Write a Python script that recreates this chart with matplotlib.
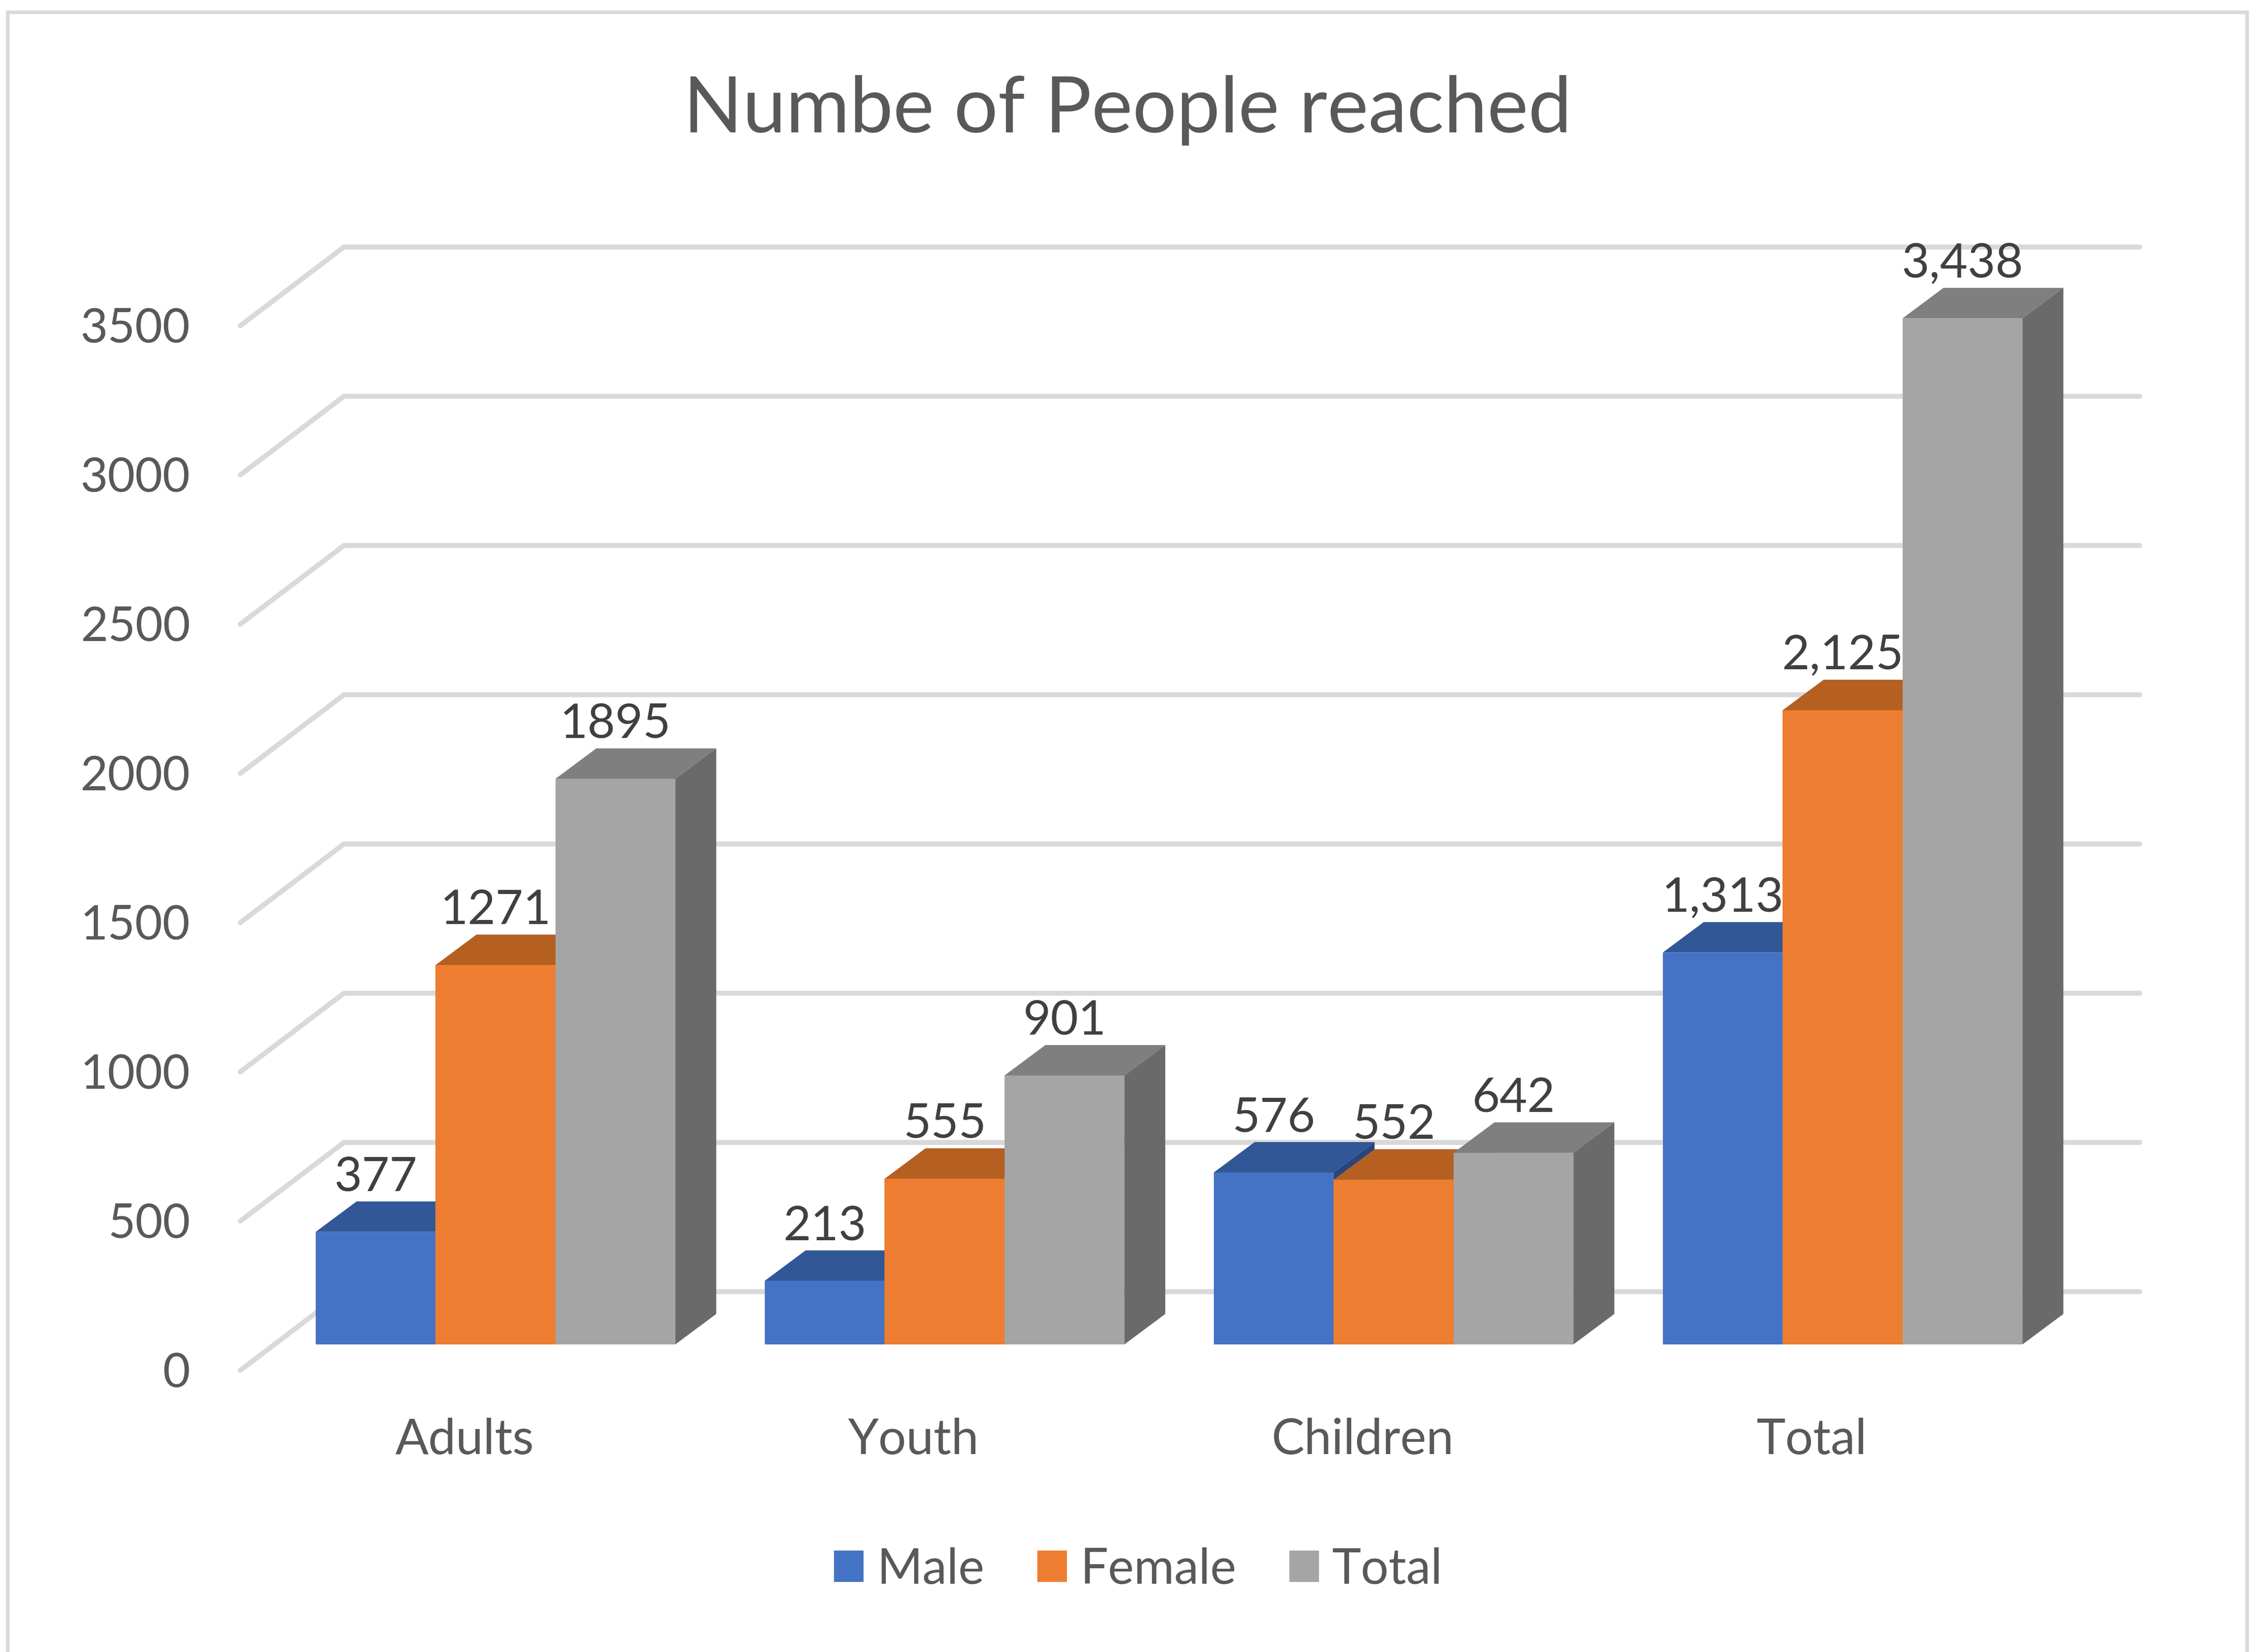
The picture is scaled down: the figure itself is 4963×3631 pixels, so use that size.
import matplotlib
matplotlib.use("Agg")
import matplotlib.pyplot as plt
from matplotlib.patches import Polygon, Rectangle

plt.rcParams['font.family'] = ['Lato', 'DejaVu Sans']

categories = ['Adults', 'Youth', 'Children', 'Total']
series_names = ['Male', 'Female', 'Total']
male = [377, 213, 576, 1313]
female = [1271, 555, 552, 2125]
total = [1895, 901, 642, 3438]
male_labels = ['377', '213', '576', '1,313']
female_labels = ['1271', '555', '552', '2,125']
total_labels = ['1895', '901', '642', '3,438']
y_ticks = [0, 500, 1000, 1500, 2000, 2500, 3000, 3500]

W, H = 4963, 3631
PX_X = 987.0     # pixels per category
PX_Y = 0.656     # pixels per person
X0 = 1089        # pixel x of first category centre
Y0 = 2955        # pixel y of the bar floor


def px(n):
    # font size / line width given in image pixels
    return n * 0.72


BAR_W = 263.5 / PX_X
DX, DY = 90 / PX_X, 67 / PX_Y            # bar depth
GRID_X0 = (756 - X0) / PX_X              # back wall left end
GRID_X1 = (4703 - X0) / PX_X             # back wall right end
GRID_UP = 116 / PX_Y                     # back wall floor above bar floor
WALL_DX, WALL_DY = 228 / PX_X, 173 / PX_Y

front = ['#4472C4', '#ED7D31', '#A5A5A5']
top = ['#325796', '#B55F21', '#7F7F7F']
side = ['#27467C', '#9A4F1A', '#6A6A6A']
text_dark = '#404040'
text_grey = '#595959'
grid_col = '#D9D9D9'

fig = plt.figure(figsize=(W / 100, H / 100), dpi=100, facecolor='white')
ax = fig.add_axes([0, 0, 1, 1])
ax.set_xlim(-X0 / PX_X, (W - X0) / PX_X)
ax.set_ylim(-(H - Y0) / PX_Y, Y0 / PX_Y)
ax.axis('off')

# outer chart frame, its bottom runs off the picture
fig.add_artist(Rectangle((17 / W, -0.02), (4939 - 17) / W, 1.02 - 27 / H,
                         transform=fig.transFigure, fill=False,
                         edgecolor=grid_col, linewidth=px(8)))

# back wall gridlines and the slanted wall edge
for v in y_ticks:
    ax.plot([GRID_X0 - WALL_DX, GRID_X0, GRID_X1],
            [v + GRID_UP - WALL_DY, v + GRID_UP, v + GRID_UP],
            color=grid_col, linewidth=px(11), solid_joinstyle='miter',
            solid_capstyle='round', zorder=1)
    ax.text(GRID_X0 - WALL_DX - 110 / PX_X, v + GRID_UP - WALL_DY + 2 / PX_Y, str(v),
            ha='right', va='center_baseline', fontsize=px(104), color=text_grey)

# bars, drawn series by series so the next one covers the last one's side
all_values = [male, female, total]
all_labels = [male_labels, female_labels, total_labels]
offsets = [-BAR_W, 0, BAR_W]
z = 3
for s, values in enumerate(all_values):
    xs = [i + offsets[s] for i in range(len(categories))]
    for x, v, lab in zip(xs, values, all_labels[s]):
        left, right = x - BAR_W / 2, x + BAR_W / 2
        ax.add_patch(Polygon([(right, 0), (right + DX, DY), (right + DX, v + DY), (right, v)],
                             facecolor=side[s], edgecolor='none', zorder=z))
        ax.add_patch(Polygon([(left, v), (left + DX, v + DY), (right + DX, v + DY), (right, v)],
                             facecolor=top[s], edgecolor='none', zorder=z))
        ax.bar(x, v, width=BAR_W, color=front[s], zorder=z + 0.5)
        ax.text(x, v + DY + 23 / PX_Y, lab, ha='center', va='baseline',
                fontsize=px(105), color=text_dark, zorder=20)
    z += 1

for i, c in enumerate(categories):
    ax.text(i - 68 / PX_X, (Y0 - 3196) / PX_Y, c, ha='center', va='baseline',
            fontsize=px(108), color=text_grey)

ax.text((2478 - X0) / PX_X, (Y0 - 291) / PX_Y, 'Numbe of People reached', ha='center',
        va='baseline', fontsize=px(170.5), color=text_grey)

handles = [Rectangle((0, 0), 1, 1, facecolor=c, edgecolor='none') for c in front]
leg = ax.legend(handles, series_names, ncol=3, frameon=False, prop={'size': px(108)},
                loc='center', bbox_to_anchor=(2502 / W, 1 - 3450 / H),
                bbox_transform=fig.transFigure, handlelength=0.6, handleheight=0.6,
                handletextpad=0.27, columnspacing=1.08, labelcolor=text_grey)

fig.savefig('out.png', dpi=100)
